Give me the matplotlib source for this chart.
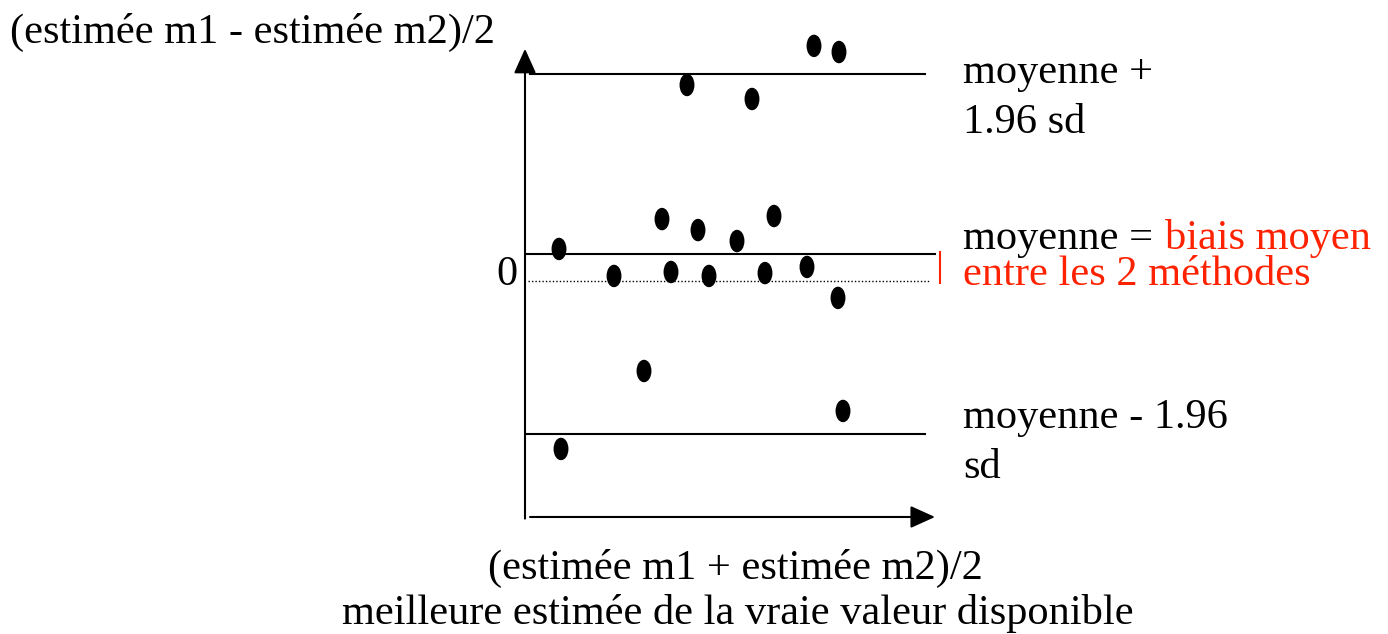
import matplotlib
matplotlib.use("Agg")
from matplotlib import pyplot as plt
from matplotlib.patches import Ellipse

# points of the Bland-Altman sketch (x = mean of the two estimates, y = difference)
x_vals = [8.1, 11.35, 14.45, 15.7, 6.85, 8.65, 10.6, 12.45, 1.7,
          4.45, 7.3, 9.2, 12.0, 14.1, 15.65, 5.95, 15.9, 1.8]
y_vals = [10.89, 10.11, 13.06, 12.72, 3.44, 2.83, 2.22, 3.61, 1.78,
          0.28, 0.5, 0.28, 0.44, 0.78, -0.94, -5.0, -7.22, -9.33]

moyenne = 1.5
limite_haute = 11.5
limite_basse = -8.5

plt.rcParams['font.family'] = ['Liberation Serif', 'DejaVu Serif']
fs = 30.5
rouge = '#ff2200'

fig = plt.figure(figsize=(13.88, 6.34), dpi=100)
ax = fig.add_axes([0, 0, 1, 1])
ax.set_xlim(-26.25, 43.15)
ax.set_ylim(-19.61, 15.61)
ax.axis('off')

# axes with arrows
fleche = dict(arrowstyle='-|>,head_length=0.42,head_width=0.19', color='k', lw=1.5,
              mutation_scale=36, shrinkA=0, shrinkB=0)
ax.annotate('', xy=(0, 12.9), xytext=(0, -13.2), arrowprops=fleche)
ax.annotate('', xy=(20.5, -13.11), xytext=(0.25, -13.11), arrowprops=fleche)

# horizontal reference lines
ax.plot([0.25, 20.0], [limite_haute, limite_haute], color='k', lw=1.5)
ax.plot([0.1, 20.5], [moyenne, moyenne], color='k', lw=1.5)
ax.plot([0.15, 20.25], [0, 0], color='k', lw=1, ls=(0, (1, 1.5)))
ax.plot([0.1, 20.0], [limite_basse, limite_basse], color='k', lw=1.5)

# red bracket for the bias
ax.plot([20.75, 20.75], [-0.11, 1.61], color=rouge, lw=1.5)

# points
for xv, yv in zip(x_vals, y_vals):
    ax.add_patch(Ellipse((xv, yv), 0.675, 1.17, color='k'))

# texts
ax.text(-25.75, 13.25, '(estimée m1 - estimée m2)/2', fontsize=fs, va='baseline', ha='left')
ax.text(-0.4, -0.25, '0', fontsize=fs, va='baseline', ha='right')
ax.text(21.9, 11.0, 'moyenne +', fontsize=fs, va='baseline')
ax.text(21.9, 8.22, '1.96 sd', fontsize=fs, va='baseline')
ax.text(21.9, 1.78, 'moyenne = ', fontsize=fs, va='baseline')
ax.text(32.0, 1.78, 'biais moyen', fontsize=fs, va='baseline', color=rouge)
ax.text(21.9, -0.22, 'entre les 2 méthodes', fontsize=fs, va='baseline', color=rouge)
ax.text(21.9, -8.17, 'moyenne - 1.96', fontsize=fs, va='baseline')
ax.text(21.9, -10.95, 'sd', fontsize=fs, va='baseline')
ax.text(10.5, -16.55, '(estimée m1 + estimée m2)/2', fontsize=fs, va='baseline', ha='center')
ax.text(10.65, -19.05, 'meilleure estimée de la vraie valeur disponible', fontsize=fs, va='baseline', ha='center')

fig.savefig('out.png', dpi=100)
